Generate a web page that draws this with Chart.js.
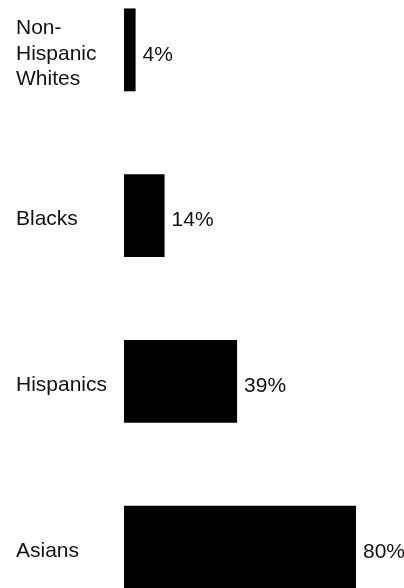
<!DOCTYPE html>
<html>
<head>
<meta charset="utf-8">
<script src="https://cdn.jsdelivr.net/npm/chart.js@4"></script>
<style>
  html, body { margin: 0; padding: 0; background: #fff; overflow: hidden; width: 404px; height: 588px; }
  #wrap { position: absolute; left: 0; top: -33px; width: 404px; height: 663px; }
</style>
</head>
<body>
<div id="wrap"><canvas id="c" width="404" height="663"></canvas></div>
<script>
const categories = [['Non-', 'Hispanic', 'Whites'], 'Blacks', 'Hispanics', 'Asians'];
const values = [4, 14, 39, 80];
const valueLabels = ['4%', '14%', '39%', '80%'];

const valueLabelPlugin = {
  id: 'valueLabels',
  afterDatasetsDraw(chart) {
    const ctx = chart.ctx;
    const meta = chart.getDatasetMeta(0);
    ctx.save();
    ctx.font = '21px "Liberation Sans", Arial, sans-serif';
    ctx.fillStyle = '#111';
    ctx.textAlign = 'left';
    ctx.textBaseline = 'middle';
    meta.data.forEach((bar, i) => {
      ctx.fillText(valueLabels[i], bar.x + 7, bar.y + 5);
    });
    ctx.restore();
  }
};

new Chart(document.getElementById('c'), {
  type: 'bar',
  data: {
    labels: categories,
    datasets: [{
      data: values,
      backgroundColor: '#000',
      borderWidth: 0,
      categoryPercentage: 1.0,
      barPercentage: 0.5
    }]
  },
  options: {
    indexAxis: 'y',
    responsive: false,
    animation: false,
    layout: { padding: { left: 16, right: 0, top: 0, bottom: 0 } },
    plugins: { legend: { display: false }, tooltip: { enabled: false } },
    scales: {
      x: { display: false, min: 0, max: 96.55 },
      y: {
        grid: { display: false, drawTicks: false },
        border: { display: false },
        afterFit(scale) { scale.width = 108; scale.paddingTop = 0; scale.paddingBottom = 0; },
        ticks: {
          crossAlign: 'far',
          color: '#111',
          padding: 0,
          labelOffset: 4,
          font: { family: '"Liberation Sans", Arial, sans-serif', size: 21, lineHeight: 1.2 }
        }
      }
    }
  },
  plugins: [valueLabelPlugin]
});
</script>
</body>
</html>
